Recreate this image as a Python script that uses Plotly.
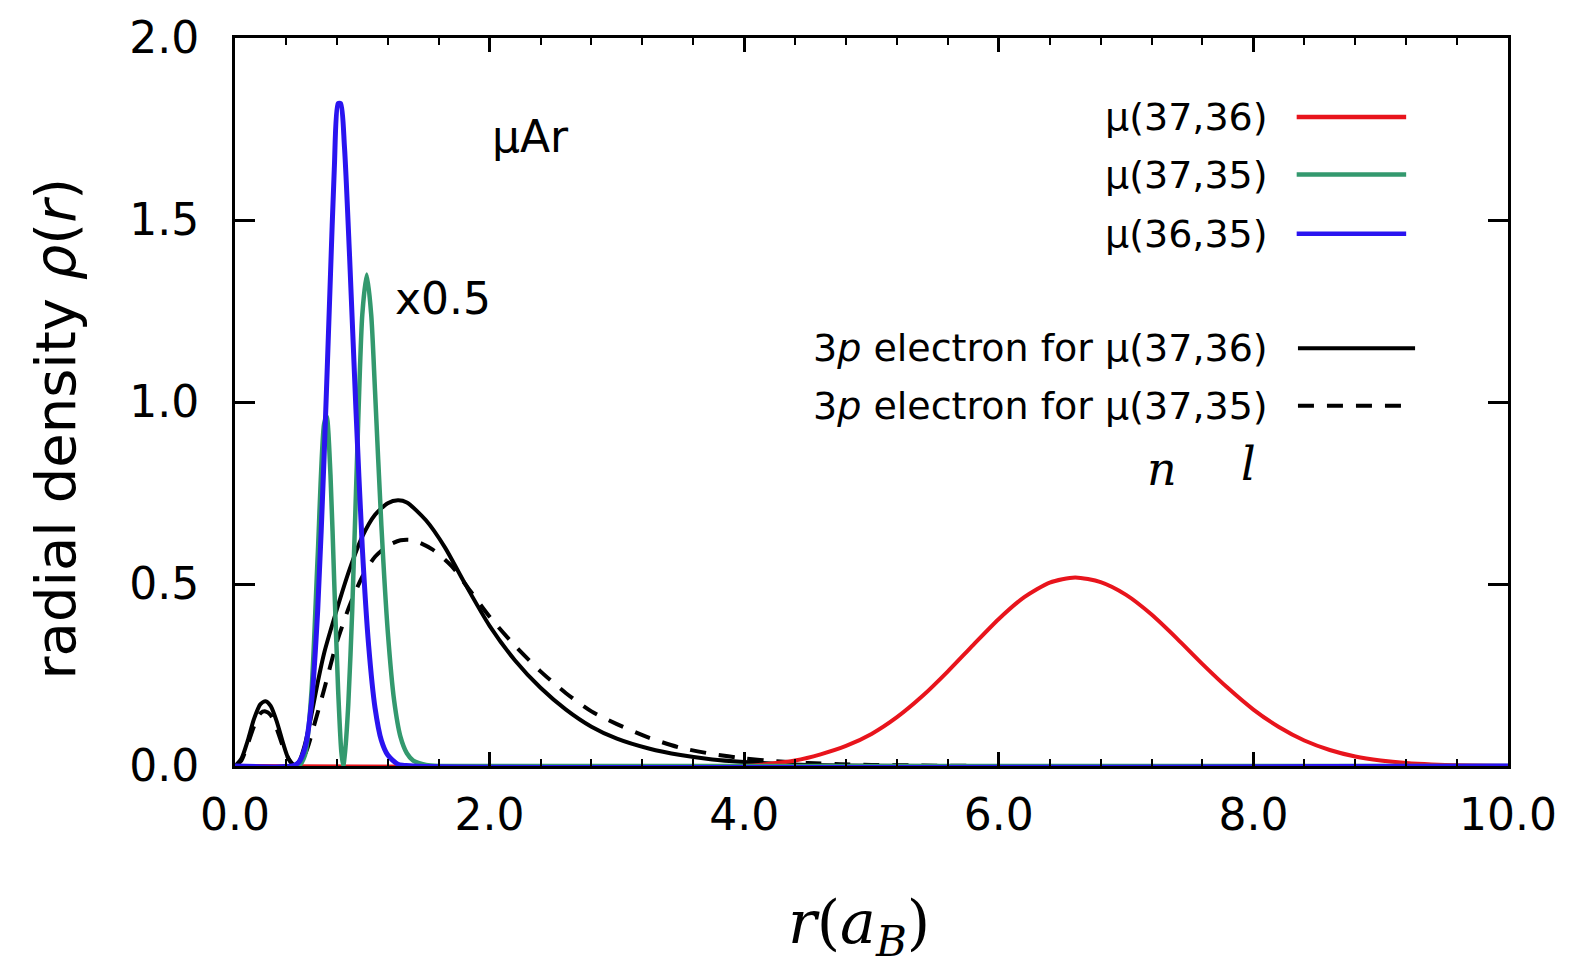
import plotly.graph_objects as go

# Radial densities rho(r), r in Bohr radii
r_e36 = [0.0, 0.05, 0.10, 0.15, 0.20, 0.24, 0.28, 0.33, 0.38, 0.42, 0.46, 0.50, 0.55, 0.60, 0.65,
         0.70, 0.80, 0.90, 1.00, 1.10, 1.20, 1.28, 1.35, 1.50, 1.65, 1.80, 2.00, 2.20, 2.40,
         2.60, 2.80, 3.00, 3.25, 3.50, 3.75, 4.00, 4.25, 4.50, 5.00, 6.00, 10.0]
rho_e36 = [0.0, 0.02, 0.07, 0.13, 0.17, 0.178, 0.165, 0.12, 0.06, 0.02, 0.003, 0.01, 0.06, 0.14, 0.23,
           0.31, 0.43, 0.54, 0.63, 0.69, 0.722, 0.73, 0.724, 0.675, 0.60, 0.505, 0.385, 0.29, 0.215,
           0.155, 0.108, 0.075, 0.048, 0.03, 0.018, 0.011, 0.006, 0.003, 0.001, 0.0, 0.0]

r_e35 = [0.0, 0.05, 0.10, 0.15, 0.20, 0.24, 0.28, 0.33, 0.38, 0.43, 0.47, 0.52, 0.57, 0.62, 0.70,
         0.80, 0.90, 1.00, 1.10, 1.20, 1.30, 1.40, 1.55, 1.70, 1.85, 2.00, 2.20, 2.40, 2.60,
         2.80, 3.00, 3.25, 3.50, 3.75, 4.00, 4.25, 4.50, 4.75, 5.00, 5.50, 6.00, 10.0]
rho_e35 = [0.0, 0.015, 0.06, 0.11, 0.145, 0.15, 0.14, 0.10, 0.05, 0.015, 0.002, 0.01, 0.05, 0.11, 0.21,
           0.34, 0.44, 0.52, 0.575, 0.605, 0.62, 0.62, 0.595, 0.55, 0.48, 0.41, 0.33, 0.26, 0.20,
           0.15, 0.115, 0.078, 0.05, 0.033, 0.021, 0.013, 0.008, 0.005, 0.003, 0.001, 0.0, 0.0]

r_mu3736 = [0.0, 4.0, 4.2, 4.4, 4.6, 4.8, 5.0, 5.2, 5.4, 5.6, 5.8, 6.0, 6.2, 6.4, 6.6,
            6.8, 7.0, 7.2, 7.4, 7.6, 7.8, 8.0, 8.2, 8.4, 8.6, 8.8, 9.0, 9.2, 9.4, 9.6, 10.0]
rho_mu3736 = [0.0, 0.0, 0.006, 0.015, 0.032, 0.055, 0.088, 0.134, 0.192, 0.26, 0.333, 0.404, 0.464, 0.504, 0.518,
              0.505, 0.47, 0.416, 0.35, 0.28, 0.214, 0.155, 0.107, 0.07, 0.044, 0.026, 0.015, 0.008, 0.004, 0.002, 0.0]

# mu(37,35) is scaled by 0.5
r_mu3735 = [0.0, 0.50, 0.55, 0.60, 0.65, 0.70, 0.72, 0.75, 0.78, 0.81, 0.835, 0.85, 0.865, 0.89, 0.92,
            0.96, 1.00, 1.035, 1.07, 1.10, 1.15, 1.20, 1.25, 1.30, 1.35, 1.40, 1.50, 1.60, 10.0]
rho_mu3735 = [0.0, 0.0, 0.03, 0.20, 0.58, 0.94, 0.96, 0.80, 0.50, 0.21, 0.04, 0.0, 0.04, 0.17, 0.42,
              0.86, 1.24, 1.35, 1.24, 1.03, 0.66, 0.37, 0.18, 0.08, 0.035, 0.015, 0.003, 0.0, 0.0]

r_mu3635 = [0.0, 0.45, 0.50, 0.55, 0.60, 0.65, 0.70, 0.75, 0.78, 0.81, 0.83, 0.86, 0.90, 0.95, 1.00,
            1.05, 1.10, 1.15, 1.20, 1.28, 1.40, 10.0]
rho_mu3635 = [0.0, 0.0, 0.01, 0.05, 0.17, 0.43, 0.85, 1.35, 1.64, 1.82, 1.82, 1.70, 1.40, 0.98, 0.60,
              0.33, 0.16, 0.07, 0.03, 0.005, 0.0, 0.0]

x_ticks = [0, 2, 4, 6, 8, 10]
y_ticks = [0.0, 0.5, 1.0, 1.5, 2.0]

RED = "#e8141c"
GREEN = "#33996e"
BLUE = "#2a14f0"
BLACK = "#000000"
DASH = "16px,13px"

series = [
    ("3p electron for μ(37,36)", r_e36, rho_e36, BLACK, "solid", 4),
    ("3p electron for μ(37,35)", r_e35, rho_e35, BLACK, DASH, 4),
    ("μ(37,36)", r_mu3736, rho_mu3736, RED, "solid", 4),
    ("μ(37,35)", r_mu3735, rho_mu3735, GREEN, "solid", 4.5),
    ("μ(36,35)", r_mu3635, rho_mu3635, BLUE, "solid", 5),
]

fig = go.Figure()
for name, xs, ys, col, dash, w in series:
    fig.add_trace(go.Scatter(
        x=xs, y=ys, mode="lines", name=name,
        line=dict(color=col, width=w, dash=dash, shape="spline", smoothing=0.7),
        showlegend=False, hoverinfo="skip",
    ))

TXT = "DejaVu Sans"
annotations = []
shapes = []

# key entries: label, color, dash, y position, sample extent
key = [
    ("μ(37,36)", RED, "solid", 1.783, 8.34, 9.20),
    ("μ(37,35)", GREEN, "solid", 1.625, 8.34, 9.20),
    ("μ(36,35)", BLUE, "solid", 1.462, 8.34, 9.20),
    ("3<i>p</i> electron for μ(37,36)", BLACK, "solid", 1.148, 8.35, 9.27),
    ("3<i>p</i> electron for μ(37,35)", BLACK, "dash", 0.99, 8.35, 9.18),
]
for label, col, dash, yy, x0, x1 in key:
    annotations.append(dict(x=8.13, y=yy, xref="x", yref="y", text=label, showarrow=False,
                            xanchor="right", yanchor="middle",
                            font=dict(family=TXT, size=38, color="black")))
    shapes.append(dict(type="line", xref="x", yref="y", x0=x0, x1=x1, y0=yy, y1=yy,
                       line=dict(color=col, width=4.5 if col != BLACK else 4,
                                 dash=DASH if dash == "dash" else "solid")))

annotations += [
    dict(x=2.0, y=1.73, xref="x", yref="y", text="μAr", showarrow=False, xanchor="left",
         yanchor="middle", font=dict(family=TXT, size=44, color="black")),
    dict(x=1.24, y=1.285, xref="x", yref="y", text="x0.5", showarrow=False, xanchor="left",
         yanchor="middle", font=dict(family=TXT, size=44, color="black")),
    dict(x=7.28, y=0.815, xref="x", yref="y", text="<i>n</i>", showarrow=False,
         font=dict(family="DejaVu Serif", size=46, color="black")),
    dict(x=7.96, y=0.83, xref="x", yref="y", text="<i>l</i>", showarrow=False,
         font=dict(family="DejaVu Serif", size=46, color="black")),
    dict(x=-0.141, y=0.463, xref="paper", yref="paper", text="radial density <i>ρ</i>(<i>r</i>)",
         showarrow=False, textangle=-90, xanchor="center", yanchor="middle",
         font=dict(family=TXT, size=56, color="black")),
    dict(x=0.49, y=-0.22, xref="paper", yref="paper",
         text="<i>r</i>(<i>a</i><sub><i>B</i></sub>)", showarrow=False,
         xanchor="center", yanchor="middle",
         font=dict(family="DejaVu Serif", size=60, color="black")),
]

fig.update_layout(
    width=1569, height=970,
    margin=dict(l=235, r=59, t=28, b=204, pad=0),
    paper_bgcolor="white", plot_bgcolor="white",
    annotations=annotations, shapes=shapes,
    showlegend=False,
)
fig.update_xaxes(
    range=[0, 10], tickvals=x_ticks, ticktext=[f"{v:.1f}" for v in x_ticks],
    ticks="inside", ticklen=14, tickwidth=2.5, tickcolor="black",
    minor=dict(dtick=0.4, tick0=0, ticks="inside", ticklen=7, tickwidth=2, tickcolor="black"),
    showline=True, linewidth=3, linecolor="black", mirror="ticks",
    showgrid=False, zeroline=False,
    tickfont=dict(family=TXT, size=44, color="black"), ticklabelstandoff=8,
)
fig.update_yaxes(
    range=[0, 2.0], tickvals=y_ticks, ticktext=[f"{v:.1f}" for v in y_ticks],
    ticks="inside", ticklen=20, tickwidth=2.5, tickcolor="black",
    showline=True, linewidth=3, linecolor="black", mirror="ticks",
    showgrid=False, zeroline=False,
    tickfont=dict(family=TXT, size=44, color="black"), ticklabelstandoff=24,
)

fig.write_html("out.html")
